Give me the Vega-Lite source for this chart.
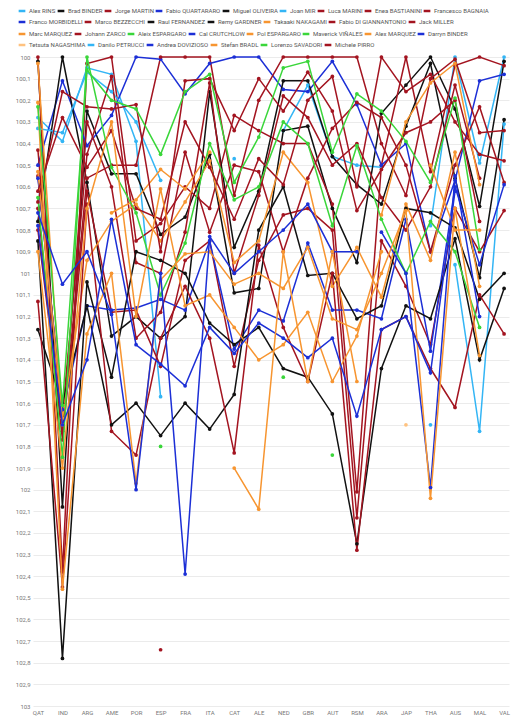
{
"$schema":"https://vega.github.io/schema/vega-lite/v6.json",
"width":476,"height":649,"autosize":"none",
"padding":{"left":33,"top":57,"right":16,"bottom":14},
"background":"white",
"config":{"font":"Roboto","view":{"stroke":null},
"axis":{"labelFont":"Roboto","labelFontSize":6,"labelColor":"#777777","domain":false,"ticks":false,"title":null},
"legend":{"orient":"none","direction":"horizontal","gridAlign":"none","symbolType":"stroke","symbolSize":45,"symbolStrokeWidth":2.5,"labelFontSize":6,"labelColor":"#555555","labelFont":"Roboto","columnPadding":-4,"labelOffset":2,"padding":0,"title":null,"symbolOpacity":1,"labelLimit":200}},
"data":{"values":[
{"r":"Alex RINS","c":"QAT","v":100.28},{"r":"Alex RINS","c":"IND","v":100.39},{"r":"Alex RINS","c":"ARG","v":100.05},{"r":"Alex RINS","c":"AME","v":100.08},{"r":"Alex RINS","c":"POR","v":100.39},{"r":"Alex RINS","c":"ESP","v":101.57},{"r":"Alex RINS","c":"FRA","v":null},{"r":"Alex RINS","c":"CAT","v":100.47},{"r":"Alex RINS","c":"ALE","v":null},{"r":"Alex RINS","c":"NED","v":100.34},{"r":"Alex RINS","c":"GBR","v":100.13},{"r":"Alex RINS","c":"AUT","v":100.46},{"r":"Alex RINS","c":"RSM","v":100.5},{"r":"Alex RINS","c":"ARA","v":100.51},{"r":"Alex RINS","c":"JAP","v":null},{"r":"Alex RINS","c":"THA","v":100.78},{"r":"Alex RINS","c":"AUS","v":100.0},{"r":"Alex RINS","c":"MAL","v":100.49},{"r":"Alex RINS","c":"VAL","v":100.0},
{"r":"Brad BINDER","c":"QAT","v":100.02},{"r":"Brad BINDER","c":"IND","v":102.08},{"r":"Brad BINDER","c":"ARG","v":100.25},{"r":"Brad BINDER","c":"AME","v":100.54},{"r":"Brad BINDER","c":"POR","v":100.54},{"r":"Brad BINDER","c":"ESP","v":100.82},{"r":"Brad BINDER","c":"FRA","v":100.74},{"r":"Brad BINDER","c":"ITA","v":100.45},{"r":"Brad BINDER","c":"CAT","v":101.09},{"r":"Brad BINDER","c":"ALE","v":101.07},{"r":"Brad BINDER","c":"NED","v":100.34},{"r":"Brad BINDER","c":"GBR","v":100.32},{"r":"Brad BINDER","c":"AUT","v":100.7},{"r":"Brad BINDER","c":"RSM","v":100.95},{"r":"Brad BINDER","c":"ARA","v":100.26},{"r":"Brad BINDER","c":"JAP","v":100.13},{"r":"Brad BINDER","c":"THA","v":100.0},{"r":"Brad BINDER","c":"AUS","v":100.24},{"r":"Brad BINDER","c":"MAL","v":100.69},{"r":"Brad BINDER","c":"VAL","v":100.02},
{"r":"Jorge MARTIN","c":"QAT","v":100.0},{"r":"Jorge MARTIN","c":"IND","v":102.38},{"r":"Jorge MARTIN","c":"ARG","v":100.03},{"r":"Jorge MARTIN","c":"AME","v":100.0},{"r":"Jorge MARTIN","c":"POR","v":100.85},{"r":"Jorge MARTIN","c":"ESP","v":100.77},{"r":"Jorge MARTIN","c":"FRA","v":100.6},{"r":"Jorge MARTIN","c":"ITA","v":100.7},{"r":"Jorge MARTIN","c":"CAT","v":100.27},{"r":"Jorge MARTIN","c":"ALE","v":100.34},{"r":"Jorge MARTIN","c":"NED","v":100.4},{"r":"Jorge MARTIN","c":"GBR","v":100.4},{"r":"Jorge MARTIN","c":"AUT","v":100.68},{"r":"Jorge MARTIN","c":"RSM","v":102.01},{"r":"Jorge MARTIN","c":"ARA","v":100.5},{"r":"Jorge MARTIN","c":"JAP","v":100.0},{"r":"Jorge MARTIN","c":"THA","v":100.53},{"r":"Jorge MARTIN","c":"AUS","v":100.04},{"r":"Jorge MARTIN","c":"MAL","v":100.0},{"r":"Jorge MARTIN","c":"VAL","v":100.04},
{"r":"Fabio QUARTARARO","c":"QAT","v":100.5},{"r":"Fabio QUARTARARO","c":"IND","v":100.11},{"r":"Fabio QUARTARARO","c":"ARG","v":100.41},{"r":"Fabio QUARTARARO","c":"AME","v":100.27},{"r":"Fabio QUARTARARO","c":"POR","v":100.0},{"r":"Fabio QUARTARARO","c":"ESP","v":100.01},{"r":"Fabio QUARTARARO","c":"FRA","v":100.17},{"r":"Fabio QUARTARARO","c":"ITA","v":100.03},{"r":"Fabio QUARTARARO","c":"CAT","v":100.0},{"r":"Fabio QUARTARARO","c":"ALE","v":100.0},{"r":"Fabio QUARTARARO","c":"NED","v":100.15},{"r":"Fabio QUARTARARO","c":"GBR","v":100.16},{"r":"Fabio QUARTARARO","c":"AUT","v":100.02},{"r":"Fabio QUARTARARO","c":"RSM","v":100.22},{"r":"Fabio QUARTARARO","c":"ARA","v":100.5},{"r":"Fabio QUARTARARO","c":"JAP","v":100.4},{"r":"Fabio QUARTARARO","c":"THA","v":100.9},{"r":"Fabio QUARTARARO","c":"AUS","v":100.57},{"r":"Fabio QUARTARARO","c":"MAL","v":100.11},{"r":"Fabio QUARTARARO","c":"VAL","v":100.08},
{"r":"Miguel OLIVEIRA","c":"QAT","v":100.76},{"r":"Miguel OLIVEIRA","c":"IND","v":100.0},{"r":"Miguel OLIVEIRA","c":"ARG","v":100.58},{"r":"Miguel OLIVEIRA","c":"AME","v":101.29},{"r":"Miguel OLIVEIRA","c":"POR","v":101.2},{"r":"Miguel OLIVEIRA","c":"ESP","v":101.3},{"r":"Miguel OLIVEIRA","c":"FRA","v":101.2},{"r":"Miguel OLIVEIRA","c":"ITA","v":100.16},{"r":"Miguel OLIVEIRA","c":"CAT","v":100.88},{"r":"Miguel OLIVEIRA","c":"ALE","v":100.62},{"r":"Miguel OLIVEIRA","c":"NED","v":100.11},{"r":"Miguel OLIVEIRA","c":"GBR","v":100.11},{"r":"Miguel OLIVEIRA","c":"AUT","v":100.46},{"r":"Miguel OLIVEIRA","c":"RSM","v":100.59},{"r":"Miguel OLIVEIRA","c":"ARA","v":100.68},{"r":"Miguel OLIVEIRA","c":"JAP","v":100.32},{"r":"Miguel OLIVEIRA","c":"THA","v":100.03},{"r":"Miguel OLIVEIRA","c":"AUS","v":100.56},{"r":"Miguel OLIVEIRA","c":"MAL","v":101.02},{"r":"Miguel OLIVEIRA","c":"VAL","v":100.29},
{"r":"Joan MIR","c":"QAT","v":100.33},{"r":"Joan MIR","c":"IND","v":100.35},{"r":"Joan MIR","c":"ARG","v":100.07},{"r":"Joan MIR","c":"AME","v":100.16},{"r":"Joan MIR","c":"POR","v":100.3},{"r":"Joan MIR","c":"ESP","v":100.57},{"r":"Joan MIR","c":"FRA","v":null},{"r":"Joan MIR","c":"AUS","v":100.96},{"r":"Joan MIR","c":"MAL","v":101.73},{"r":"Joan MIR","c":"VAL","v":100.31},
{"r":"Luca MARINI","c":"QAT","v":100.7},{"r":"Luca MARINI","c":"IND","v":101.77},{"r":"Luca MARINI","c":"ARG","v":100.62},{"r":"Luca MARINI","c":"AME","v":101.18},{"r":"Luca MARINI","c":"POR","v":101.17},{"r":"Luca MARINI","c":"ESP","v":101.43},{"r":"Luca MARINI","c":"FRA","v":100.94},{"r":"Luca MARINI","c":"ITA","v":100.85},{"r":"Luca MARINI","c":"CAT","v":101.43},{"r":"Luca MARINI","c":"ALE","v":100.94},{"r":"Luca MARINI","c":"NED","v":100.73},{"r":"Luca MARINI","c":"GBR","v":100.7},{"r":"Luca MARINI","c":"AUT","v":100.8},{"r":"Luca MARINI","c":"RSM","v":102.13},{"r":"Luca MARINI","c":"ARA","v":100.85},{"r":"Luca MARINI","c":"JAP","v":101.06},{"r":"Luca MARINI","c":"THA","v":101.33},{"r":"Luca MARINI","c":"AUS","v":100.7},{"r":"Luca MARINI","c":"MAL","v":100.9},{"r":"Luca MARINI","c":"VAL","v":100.71},
{"r":"Enea BASTIANINI","c":"QAT","v":100.55},{"r":"Enea BASTIANINI","c":"IND","v":101.65},{"r":"Enea BASTIANINI","c":"ARG","v":100.45},{"r":"Enea BASTIANINI","c":"AME","v":100.09},{"r":"Enea BASTIANINI","c":"POR","v":100.95},{"r":"Enea BASTIANINI","c":"ESP","v":101.0},{"r":"Enea BASTIANINI","c":"FRA","v":100.44},{"r":"Enea BASTIANINI","c":"ITA","v":100.81},{"r":"Enea BASTIANINI","c":"CAT","v":100.5},{"r":"Enea BASTIANINI","c":"ALE","v":100.53},{"r":"Enea BASTIANINI","c":"NED","v":100.9},{"r":"Enea BASTIANINI","c":"GBR","v":100.56},{"r":"Enea BASTIANINI","c":"AUT","v":100.33},{"r":"Enea BASTIANINI","c":"RSM","v":100.21},{"r":"Enea BASTIANINI","c":"ARA","v":100.28},{"r":"Enea BASTIANINI","c":"JAP","v":100.5},{"r":"Enea BASTIANINI","c":"THA","v":100.9},{"r":"Enea BASTIANINI","c":"AUS","v":100.5},{"r":"Enea BASTIANINI","c":"MAL","v":100.23},{"r":"Enea BASTIANINI","c":"VAL","v":100.58},
{"r":"Francesco BAGNAIA","c":"QAT","v":100.43},{"r":"Francesco BAGNAIA","c":"IND","v":101.73},{"r":"Francesco BAGNAIA","c":"ARG","v":100.56},{"r":"Francesco BAGNAIA","c":"AME","v":100.5},{"r":"Francesco BAGNAIA","c":"POR","v":100.5},{"r":"Francesco BAGNAIA","c":"ESP","v":100.0},{"r":"Francesco BAGNAIA","c":"FRA","v":100.0},{"r":"Francesco BAGNAIA","c":"ITA","v":100.0},{"r":"Francesco BAGNAIA","c":"CAT","v":100.64},{"r":"Francesco BAGNAIA","c":"ALE","v":100.2},{"r":"Francesco BAGNAIA","c":"NED","v":100.0},{"r":"Francesco BAGNAIA","c":"GBR","v":100.0},{"r":"Francesco BAGNAIA","c":"AUT","v":100.0},{"r":"Francesco BAGNAIA","c":"RSM","v":100.0},{"r":"Francesco BAGNAIA","c":"ARA","v":100.4},{"r":"Francesco BAGNAIA","c":"JAP","v":100.64},{"r":"Francesco BAGNAIA","c":"THA","v":100.1},{"r":"Francesco BAGNAIA","c":"AUS","v":100.01},{"r":"Francesco BAGNAIA","c":"MAL","v":100.35},{"r":"Francesco BAGNAIA","c":"VAL","v":100.34},
{"r":"Franco MORBIDELLI","c":"QAT","v":100.56},{"r":"Franco MORBIDELLI","c":"IND","v":101.63},{"r":"Franco MORBIDELLI","c":"ARG","v":101.15},{"r":"Franco MORBIDELLI","c":"AME","v":101.17},{"r":"Franco MORBIDELLI","c":"POR","v":101.16},{"r":"Franco MORBIDELLI","c":"ESP","v":101.12},{"r":"Franco MORBIDELLI","c":"FRA","v":101.17},{"r":"Franco MORBIDELLI","c":"ITA","v":100.85},{"r":"Franco MORBIDELLI","c":"CAT","v":101.35},{"r":"Franco MORBIDELLI","c":"ALE","v":101.17},{"r":"Franco MORBIDELLI","c":"NED","v":101.22},{"r":"Franco MORBIDELLI","c":"GBR","v":100.86},{"r":"Franco MORBIDELLI","c":"AUT","v":101.17},{"r":"Franco MORBIDELLI","c":"RSM","v":101.17},{"r":"Franco MORBIDELLI","c":"ARA","v":101.21},{"r":"Franco MORBIDELLI","c":"JAP","v":100.75},{"r":"Franco MORBIDELLI","c":"THA","v":101.36},{"r":"Franco MORBIDELLI","c":"AUS","v":100.6},{"r":"Franco MORBIDELLI","c":"MAL","v":100.96},{"r":"Franco MORBIDELLI","c":"VAL","v":100.59},
{"r":"Marco BEZZECCHI","c":"QAT","v":100.8},{"r":"Marco BEZZECCHI","c":"IND","v":101.73},{"r":"Marco BEZZECCHI","c":"ARG","v":100.3},{"r":"Marco BEZZECCHI","c":"AME","v":100.6},{"r":"Marco BEZZECCHI","c":"POR","v":101.3},{"r":"Marco BEZZECCHI","c":"ESP","v":101.18},{"r":"Marco BEZZECCHI","c":"FRA","v":100.81},{"r":"Marco BEZZECCHI","c":"ITA","v":100.12},{"r":"Marco BEZZECCHI","c":"CAT","v":101.0},{"r":"Marco BEZZECCHI","c":"ALE","v":100.64},{"r":"Marco BEZZECCHI","c":"NED","v":100.18},{"r":"Marco BEZZECCHI","c":"GBR","v":100.28},{"r":"Marco BEZZECCHI","c":"AUT","v":100.5},{"r":"Marco BEZZECCHI","c":"RSM","v":100.4},{"r":"Marco BEZZECCHI","c":"ARA","v":100.65},{"r":"Marco BEZZECCHI","c":"JAP","v":100.8},{"r":"Marco BEZZECCHI","c":"THA","v":100.6},{"r":"Marco BEZZECCHI","c":"AUS","v":100.13},{"r":"Marco BEZZECCHI","c":"MAL","v":100.56},
{"r":"Raul FERNANDEZ","c":"QAT","v":101.26},{"r":"Raul FERNANDEZ","c":"IND","v":101.6},{"r":"Raul FERNANDEZ","c":"ARG","v":101.15},{"r":"Raul FERNANDEZ","c":"AME","v":101.7},{"r":"Raul FERNANDEZ","c":"POR","v":101.6},{"r":"Raul FERNANDEZ","c":"ESP","v":101.75},{"r":"Raul FERNANDEZ","c":"FRA","v":101.6},{"r":"Raul FERNANDEZ","c":"ITA","v":101.72},{"r":"Raul FERNANDEZ","c":"CAT","v":101.56},{"r":"Raul FERNANDEZ","c":"ALE","v":100.8},{"r":"Raul FERNANDEZ","c":"NED","v":100.6},{"r":"Raul FERNANDEZ","c":"GBR","v":101.01},{"r":"Raul FERNANDEZ","c":"AUT","v":101.0},{"r":"Raul FERNANDEZ","c":"RSM","v":101.21},{"r":"Raul FERNANDEZ","c":"ARA","v":101.15},{"r":"Raul FERNANDEZ","c":"JAP","v":100.7},{"r":"Raul FERNANDEZ","c":"THA","v":100.72},{"r":"Raul FERNANDEZ","c":"AUS","v":100.79},{"r":"Raul FERNANDEZ","c":"MAL","v":101.12},{"r":"Raul FERNANDEZ","c":"VAL","v":101.0},
{"r":"Remy GARDNER","c":"QAT","v":100.85},{"r":"Remy GARDNER","c":"IND","v":102.78},{"r":"Remy GARDNER","c":"ARG","v":101.04},{"r":"Remy GARDNER","c":"AME","v":101.48},{"r":"Remy GARDNER","c":"POR","v":100.9},{"r":"Remy GARDNER","c":"ESP","v":100.94},{"r":"Remy GARDNER","c":"FRA","v":101.0},{"r":"Remy GARDNER","c":"ITA","v":101.23},{"r":"Remy GARDNER","c":"CAT","v":101.33},{"r":"Remy GARDNER","c":"ALE","v":101.25},{"r":"Remy GARDNER","c":"NED","v":101.44},{"r":"Remy GARDNER","c":"GBR","v":101.48},{"r":"Remy GARDNER","c":"AUT","v":101.65},{"r":"Remy GARDNER","c":"RSM","v":102.25},{"r":"Remy GARDNER","c":"ARA","v":101.44},{"r":"Remy GARDNER","c":"JAP","v":101.15},{"r":"Remy GARDNER","c":"THA","v":101.21},{"r":"Remy GARDNER","c":"AUS","v":100.84},{"r":"Remy GARDNER","c":"MAL","v":101.4},{"r":"Remy GARDNER","c":"VAL","v":101.07},
{"r":"Takaaki NAKAGAMI","c":"QAT","v":100.53},{"r":"Takaaki NAKAGAMI","c":"IND","v":101.67},{"r":"Takaaki NAKAGAMI","c":"ARG","v":100.94},{"r":"Takaaki NAKAGAMI","c":"AME","v":100.76},{"r":"Takaaki NAKAGAMI","c":"POR","v":100.68},{"r":"Takaaki NAKAGAMI","c":"ESP","v":100.85},{"r":"Takaaki NAKAGAMI","c":"FRA","v":100.67},{"r":"Takaaki NAKAGAMI","c":"ITA","v":100.48},{"r":"Takaaki NAKAGAMI","c":"CAT","v":100.95},{"r":"Takaaki NAKAGAMI","c":"ALE","v":100.85},{"r":"Takaaki NAKAGAMI","c":"NED","v":100.44},{"r":"Takaaki NAKAGAMI","c":"GBR","v":100.58},{"r":"Takaaki NAKAGAMI","c":"AUT","v":101.06},{"r":"Takaaki NAKAGAMI","c":"RSM","v":100.88},{"r":"Takaaki NAKAGAMI","c":"ARA","v":101.11},{"r":"Takaaki NAKAGAMI","c":"JAP","v":100.68},{"r":"Takaaki NAKAGAMI","c":"THA","v":100.94},{"r":"Takaaki NAKAGAMI","c":"AUS","v":100.44},{"r":"Takaaki NAKAGAMI","c":"MAL","v":101.06},
{"r":"Fabio DI GIANNANTONIO","c":"QAT","v":101.13},{"r":"Fabio DI GIANNANTONIO","c":"IND","v":102.45},{"r":"Fabio DI GIANNANTONIO","c":"ARG","v":100.68},{"r":"Fabio DI GIANNANTONIO","c":"AME","v":101.73},{"r":"Fabio DI GIANNANTONIO","c":"POR","v":101.84},{"r":"Fabio DI GIANNANTONIO","c":"ESP","v":101.3},{"r":"Fabio DI GIANNANTONIO","c":"FRA","v":101.06},{"r":"Fabio DI GIANNANTONIO","c":"ITA","v":101.3},{"r":"Fabio DI GIANNANTONIO","c":"CAT","v":101.83},{"r":"Fabio DI GIANNANTONIO","c":"ALE","v":100.87},{"r":"Fabio DI GIANNANTONIO","c":"NED","v":101.25},{"r":"Fabio DI GIANNANTONIO","c":"GBR","v":101.5},{"r":"Fabio DI GIANNANTONIO","c":"AUT","v":101.0},{"r":"Fabio DI GIANNANTONIO","c":"RSM","v":102.28},{"r":"Fabio DI GIANNANTONIO","c":"ARA","v":101.26},{"r":"Fabio DI GIANNANTONIO","c":"JAP","v":101.2},{"r":"Fabio DI GIANNANTONIO","c":"THA","v":101.44},{"r":"Fabio DI GIANNANTONIO","c":"AUS","v":101.62},{"r":"Fabio DI GIANNANTONIO","c":"MAL","v":101.1},{"r":"Fabio DI GIANNANTONIO","c":"VAL","v":101.28},
{"r":"Jack MILLER","c":"QAT","v":100.62},{"r":"Jack MILLER","c":"IND","v":100.28},{"r":"Jack MILLER","c":"ARG","v":100.51},{"r":"Jack MILLER","c":"AME","v":100.34},{"r":"Jack MILLER","c":"POR","v":100.7},{"r":"Jack MILLER","c":"ESP","v":100.75},{"r":"Jack MILLER","c":"FRA","v":100.3},{"r":"Jack MILLER","c":"ITA","v":100.51},{"r":"Jack MILLER","c":"CAT","v":100.75},{"r":"Jack MILLER","c":"ALE","v":100.47},{"r":"Jack MILLER","c":"NED","v":100.59},{"r":"Jack MILLER","c":"GBR","v":100.2},{"r":"Jack MILLER","c":"AUT","v":100.09},{"r":"Jack MILLER","c":"RSM","v":100.6},{"r":"Jack MILLER","c":"ARA","v":100.0},{"r":"Jack MILLER","c":"JAP","v":100.16},{"r":"Jack MILLER","c":"THA","v":100.08},{"r":"Jack MILLER","c":"AUS","v":100.3},{"r":"Jack MILLER","c":"MAL","v":100.45},{"r":"Jack MILLER","c":"VAL","v":100.48},
{"r":"Marc MARQUEZ","c":"QAT","v":100.03},{"r":"Marc MARQUEZ","c":"IND","v":101.7},{"r":"Marc MARQUEZ","c":"ARG","v":null},{"r":"Marc MARQUEZ","c":"AME","v":100.72},{"r":"Marc MARQUEZ","c":"POR","v":100.66},{"r":"Marc MARQUEZ","c":"ESP","v":100.52},{"r":"Marc MARQUEZ","c":"FRA","v":100.61},{"r":"Marc MARQUEZ","c":"ITA","v":100.44},{"r":"Marc MARQUEZ","c":"CAT","v":null},{"r":"Marc MARQUEZ","c":"ARA","v":100.73},{"r":"Marc MARQUEZ","c":"JAP","v":100.3},{"r":"Marc MARQUEZ","c":"THA","v":100.12},{"r":"Marc MARQUEZ","c":"AUS","v":100.03},{"r":"Marc MARQUEZ","c":"MAL","v":100.59},
{"r":"Johann ZARCO","c":"QAT","v":100.67},{"r":"Johann ZARCO","c":"IND","v":100.16},{"r":"Johann ZARCO","c":"ARG","v":100.23},{"r":"Johann ZARCO","c":"AME","v":100.24},{"r":"Johann ZARCO","c":"POR","v":100.22},{"r":"Johann ZARCO","c":"ESP","v":100.9},{"r":"Johann ZARCO","c":"FRA","v":100.11},{"r":"Johann ZARCO","c":"ITA","v":100.1},{"r":"Johann ZARCO","c":"CAT","v":100.34},{"r":"Johann ZARCO","c":"ALE","v":100.1},{"r":"Johann ZARCO","c":"NED","v":100.25},{"r":"Johann ZARCO","c":"GBR","v":100.07},{"r":"Johann ZARCO","c":"AUT","v":100.25},{"r":"Johann ZARCO","c":"RSM","v":100.71},{"r":"Johann ZARCO","c":"ARA","v":100.52},{"r":"Johann ZARCO","c":"JAP","v":100.35},{"r":"Johann ZARCO","c":"THA","v":100.3},{"r":"Johann ZARCO","c":"AUS","v":100.2},{"r":"Johann ZARCO","c":"MAL","v":100.76},
{"r":"Aleix ESPARGARO","c":"QAT","v":100.65},{"r":"Aleix ESPARGARO","c":"IND","v":101.85},{"r":"Aleix ESPARGARO","c":"ARG","v":100.0},{"r":"Aleix ESPARGARO","c":"AME","v":100.51},{"r":"Aleix ESPARGARO","c":"POR","v":100.72},{"r":"Aleix ESPARGARO","c":"ESP","v":101.1},{"r":"Aleix ESPARGARO","c":"FRA","v":100.86},{"r":"Aleix ESPARGARO","c":"ITA","v":100.4},{"r":"Aleix ESPARGARO","c":"CAT","v":100.66},{"r":"Aleix ESPARGARO","c":"ALE","v":100.6},{"r":"Aleix ESPARGARO","c":"NED","v":100.3},{"r":"Aleix ESPARGARO","c":"GBR","v":100.4},{"r":"Aleix ESPARGARO","c":"AUT","v":100.78},{"r":"Aleix ESPARGARO","c":"RSM","v":100.41},{"r":"Aleix ESPARGARO","c":"ARA","v":100.75},{"r":"Aleix ESPARGARO","c":"JAP","v":101.0},{"r":"Aleix ESPARGARO","c":"THA","v":100.76},{"r":"Aleix ESPARGARO","c":"AUS","v":100.9},{"r":"Aleix ESPARGARO","c":"MAL","v":101.25},
{"r":"Cal CRUTCHLOW","c":"ARA","v":100.81},{"r":"Cal CRUTCHLOW","c":"JAP","v":101.0},{"r":"Cal CRUTCHLOW","c":"THA","v":101.99},{"r":"Cal CRUTCHLOW","c":"AUS","v":100.55},{"r":"Cal CRUTCHLOW","c":"MAL","v":101.2},
{"r":"Pol ESPARGARO","c":"QAT","v":100.21},{"r":"Pol ESPARGARO","c":"IND","v":102.46},{"r":"Pol ESPARGARO","c":"ARG","v":101.28},{"r":"Pol ESPARGARO","c":"AME","v":101.0},{"r":"Pol ESPARGARO","c":"POR","v":101.97},{"r":"Pol ESPARGARO","c":"ESP","v":101.03},{"r":"Pol ESPARGARO","c":"FRA","v":100.91},{"r":"Pol ESPARGARO","c":"ITA","v":100.9},{"r":"Pol ESPARGARO","c":"CAT","v":101.05},{"r":"Pol ESPARGARO","c":"ALE","v":101.0},{"r":"Pol ESPARGARO","c":"NED","v":101.07},{"r":"Pol ESPARGARO","c":"GBR","v":100.88},{"r":"Pol ESPARGARO","c":"AUT","v":101.21},{"r":"Pol ESPARGARO","c":"RSM","v":101.26},{"r":"Pol ESPARGARO","c":"ARA","v":101.0},{"r":"Pol ESPARGARO","c":"JAP","v":100.71},{"r":"Pol ESPARGARO","c":"THA","v":102.04},{"r":"Pol ESPARGARO","c":"AUS","v":100.7},{"r":"Pol ESPARGARO","c":"MAL","v":101.38},
{"r":"Maverick VIÑALES","c":"QAT","v":100.23},{"r":"Maverick VIÑALES","c":"IND","v":101.61},{"r":"Maverick VIÑALES","c":"ARG","v":100.06},{"r":"Maverick VIÑALES","c":"AME","v":100.2},{"r":"Maverick VIÑALES","c":"POR","v":100.24},{"r":"Maverick VIÑALES","c":"ESP","v":100.45},{"r":"Maverick VIÑALES","c":"FRA","v":100.16},{"r":"Maverick VIÑALES","c":"ITA","v":100.08},{"r":"Maverick VIÑALES","c":"CAT","v":100.58},{"r":"Maverick VIÑALES","c":"ALE","v":100.37},{"r":"Maverick VIÑALES","c":"NED","v":100.05},{"r":"Maverick VIÑALES","c":"GBR","v":100.02},{"r":"Maverick VIÑALES","c":"AUT","v":100.44},{"r":"Maverick VIÑALES","c":"RSM","v":100.17},{"r":"Maverick VIÑALES","c":"ARA","v":100.25},{"r":"Maverick VIÑALES","c":"JAP","v":100.39},{"r":"Maverick VIÑALES","c":"THA","v":100.58},{"r":"Maverick VIÑALES","c":"AUS","v":100.19},{"r":"Maverick VIÑALES","c":"MAL","v":100.89},
{"r":"Alex MARQUEZ","c":"QAT","v":100.9},{"r":"Alex MARQUEZ","c":"IND","v":101.9},{"r":"Alex MARQUEZ","c":"ARG","v":100.7},{"r":"Alex MARQUEZ","c":"AME","v":100.3},{"r":"Alex MARQUEZ","c":"POR","v":101.2},{"r":"Alex MARQUEZ","c":"ESP","v":100.61},{"r":"Alex MARQUEZ","c":"FRA","v":101.15},{"r":"Alex MARQUEZ","c":"ITA","v":101.1},{"r":"Alex MARQUEZ","c":"CAT","v":101.25},{"r":"Alex MARQUEZ","c":"ALE","v":101.4},{"r":"Alex MARQUEZ","c":"NED","v":101.33},{"r":"Alex MARQUEZ","c":"GBR","v":101.18},{"r":"Alex MARQUEZ","c":"AUT","v":101.5},{"r":"Alex MARQUEZ","c":"RSM","v":101.29},{"r":"Alex MARQUEZ","c":"ARA","v":100.9},{"r":"Alex MARQUEZ","c":"JAP","v":null},{"r":"Alex MARQUEZ","c":"THA","v":100.5},{"r":"Alex MARQUEZ","c":"AUS","v":100.8},{"r":"Alex MARQUEZ","c":"MAL","v":100.8},
{"r":"Darryn BINDER","c":"QAT","v":100.78},{"r":"Darryn BINDER","c":"IND","v":101.7},{"r":"Darryn BINDER","c":"ARG","v":101.4},{"r":"Darryn BINDER","c":"AME","v":100.75},{"r":"Darryn BINDER","c":"POR","v":101.33},{"r":"Darryn BINDER","c":"ESP","v":101.42},{"r":"Darryn BINDER","c":"FRA","v":101.52},{"r":"Darryn BINDER","c":"ITA","v":101.25},{"r":"Darryn BINDER","c":"CAT","v":101.37},{"r":"Darryn BINDER","c":"ALE","v":101.23},{"r":"Darryn BINDER","c":"NED","v":101.3},{"r":"Darryn BINDER","c":"GBR","v":101.39},{"r":"Darryn BINDER","c":"AUT","v":101.3},{"r":"Darryn BINDER","c":"RSM","v":101.66},{"r":"Darryn BINDER","c":"ARA","v":101.26},{"r":"Darryn BINDER","c":"JAP","v":101.2},{"r":"Darryn BINDER","c":"THA","v":101.46},{"r":"Darryn BINDER","c":"AUS","v":100.62},
{"r":"Tetsuta NAGASHIMA","c":"JAP","v":101.7},
{"r":"Danilo PETRUCCI","c":"THA","v":101.7},
{"r":"Andrea DOVIZIOSO","c":"QAT","v":100.72},{"r":"Andrea DOVIZIOSO","c":"IND","v":101.05},{"r":"Andrea DOVIZIOSO","c":"ARG","v":100.9},{"r":"Andrea DOVIZIOSO","c":"AME","v":101.19},{"r":"Andrea DOVIZIOSO","c":"POR","v":102.0},{"r":"Andrea DOVIZIOSO","c":"ESP","v":101.0},{"r":"Andrea DOVIZIOSO","c":"FRA","v":102.39},{"r":"Andrea DOVIZIOSO","c":"ITA","v":100.83},{"r":"Andrea DOVIZIOSO","c":"CAT","v":101.0},{"r":"Andrea DOVIZIOSO","c":"ALE","v":100.9},{"r":"Andrea DOVIZIOSO","c":"NED","v":100.8},{"r":"Andrea DOVIZIOSO","c":"GBR","v":100.68},{"r":"Andrea DOVIZIOSO","c":"AUT","v":100.9},{"r":"Andrea DOVIZIOSO","c":"RSM","v":100.9},
{"r":"Stefan BRADL","c":"CAT","v":101.9},{"r":"Stefan BRADL","c":"ALE","v":102.09},{"r":"Stefan BRADL","c":"NED","v":100.9},{"r":"Stefan BRADL","c":"GBR","v":101.5},{"r":"Stefan BRADL","c":"AUT","v":100.9},{"r":"Stefan BRADL","c":"RSM","v":101.5},
{"r":"Lorenzo SAVADORI","c":"ESP","v":101.8},{"r":"Lorenzo SAVADORI","c":"FRA","v":null},{"r":"Lorenzo SAVADORI","c":"NED","v":101.48},{"r":"Lorenzo SAVADORI","c":"GBR","v":null},{"r":"Lorenzo SAVADORI","c":"AUT","v":101.84},
{"r":"Michele PIRRO","c":"ESP","v":102.74}
]},
"encoding":{
"x":{"field":"c","type":"nominal","sort":["QAT","IND","ARG","AME","POR","ESP","FRA","ITA","CAT","ALE","NED","GBR","AUT","RSM","ARA","JAP","THA","AUS","MAL","VAL"],"scale":{"type":"point","padding":0.2},"axis":{"labelAngle":0,"grid":false,"labelPadding":3}},
"y":{"field":"v","type":"quantitative","scale":{"domain":[100,103],"reverse":true,"nice":false,"zero":false},"axis":{"values":[100,100.1,100.2,100.3,100.4,100.5,100.6,100.7,100.8,100.9,101,101.1,101.2,101.3,101.4,101.5,101.6,101.7,101.8,101.9,102,102.1,102.2,102.3,102.4,102.5,102.6,102.7,102.8,102.9,103],"grid":true,"gridColor":"#ebebeb","labelPadding":3,"labelExpr":"replace(format(datum.value, '~g'), '.', ',')"}}
},
"layer":[
{"transform":[{"filter":{"field":"r","oneOf":["Alex RINS","Brad BINDER","Jorge MARTIN","Fabio QUARTARARO","Miguel OLIVEIRA","Joan MIR","Luca MARINI","Enea BASTIANINI","Francesco BAGNAIA"]}}],
"mark":{"type":"line","strokeWidth":1.5,"invalid":"break-paths-filter-domains","point":{"filled":true,"size":14}},
"encoding":{"color":{"field":"r","type":"nominal","scale":{"domain":["Alex RINS","Brad BINDER","Jorge MARTIN","Fabio QUARTARARO","Miguel OLIVEIRA","Joan MIR","Luca MARINI","Enea BASTIANINI","Francesco BAGNAIA"],"range":["#33b5f5","#111111","#a31420","#1c2fd6","#111111","#33b5f5","#a31420","#a31420","#a31420"]},"legend":{"legendX":-16,"legendY":-51,"columns":9}}}},
{"transform":[{"filter":{"field":"r","oneOf":["Franco MORBIDELLI","Marco BEZZECCHI","Raul FERNANDEZ","Remy GARDNER","Takaaki NAKAGAMI","Fabio DI GIANNANTONIO","Jack MILLER"]}}],
"mark":{"type":"line","strokeWidth":1.5,"invalid":"break-paths-filter-domains","point":{"filled":true,"size":14}},
"encoding":{"color":{"field":"r","type":"nominal","scale":{"domain":["Franco MORBIDELLI","Marco BEZZECCHI","Raul FERNANDEZ","Remy GARDNER","Takaaki NAKAGAMI","Fabio DI GIANNANTONIO","Jack MILLER"],"range":["#1c2fd6","#a31420","#111111","#111111","#f79530","#a31420","#a31420"]},"legend":{"legendX":-16,"legendY":-40,"columns":7}}}},
{"transform":[{"filter":{"field":"r","oneOf":["Marc MARQUEZ","Johann ZARCO","Aleix ESPARGARO","Cal CRUTCHLOW","Pol ESPARGARO","Maverick VIÑALES","Alex MARQUEZ","Darryn BINDER"]}}],
"mark":{"type":"line","strokeWidth":1.5,"invalid":"break-paths-filter-domains","point":{"filled":true,"size":14}},
"encoding":{"color":{"field":"r","type":"nominal","scale":{"domain":["Marc MARQUEZ","Johann ZARCO","Aleix ESPARGARO","Cal CRUTCHLOW","Pol ESPARGARO","Maverick VIÑALES","Alex MARQUEZ","Darryn BINDER"],"range":["#f79530","#a31420","#3ad63a","#1c2fd6","#f79530","#3ad63a","#f79530","#1c2fd6"]},"legend":{"legendX":-16,"legendY":-28,"columns":8}}}},
{"transform":[{"filter":{"field":"r","oneOf":["Tetsuta NAGASHIMA","Danilo PETRUCCI","Andrea DOVIZIOSO","Stefan BRADL","Lorenzo SAVADORI","Michele PIRRO"]}}],
"mark":{"type":"line","strokeWidth":1.5,"invalid":"break-paths-filter-domains","point":{"filled":true,"size":14}},
"encoding":{"color":{"field":"r","type":"nominal","scale":{"domain":["Tetsuta NAGASHIMA","Danilo PETRUCCI","Andrea DOVIZIOSO","Stefan BRADL","Lorenzo SAVADORI","Michele PIRRO"],"range":["#ffc27f","#33b5f5","#1c2fd6","#f79530","#3ad63a","#a31420"]},"legend":{"legendX":-16,"legendY":-17,"columns":6}}}}
],
"resolve":{"scale":{"color":"independent"},"legend":{"color":"independent"}}
}
